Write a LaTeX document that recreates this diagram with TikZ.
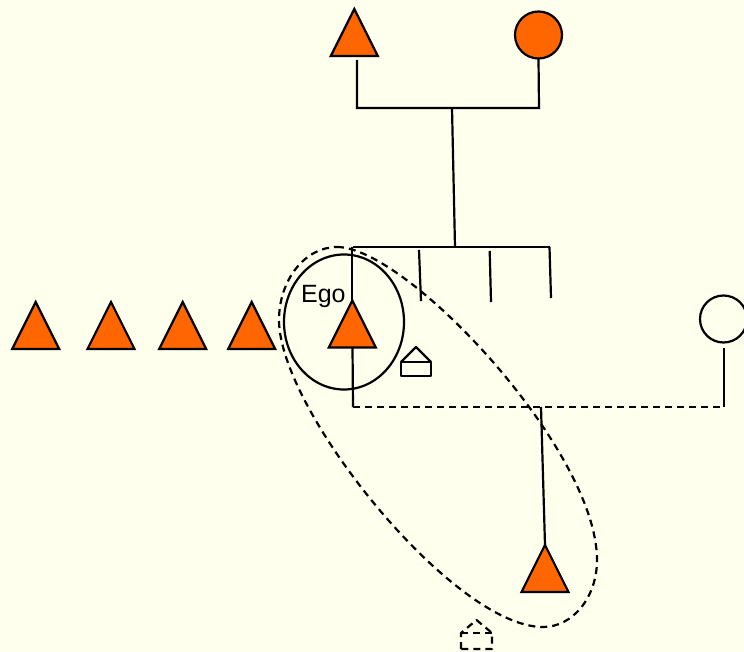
\documentclass[tikz,border=0pt]{standalone}
\usepackage{fontspec}
\setmainfont{Liberation Sans}
\usetikzlibrary{shapes.geometric,calc}
\definecolor{bg}{RGB}{255,255,238}
\definecolor{kin}{RGB}{255,102,0}
\begin{document}
\begin{tikzpicture}[x=1pt,y=-1pt,line width=2.2pt]
\tikzset{
  tri/.style={isosceles triangle, isosceles triangle stretches, shape border rotate=90,
    minimum width=47pt, minimum height=47pt, inner sep=0pt, outer sep=0pt,
    draw=black, fill=kin, anchor=apex},
  circ/.style={circle, minimum size=47pt, inner sep=0pt, outer sep=0pt, draw=black},
  dsh/.style={dash pattern=on 7pt off 5pt},
  egofont/.style={font=\fontsize{25}{29}\selectfont}
}
\fill[bg] (0,0) rectangle (744,652);
\useasboundingbox (0,0) rectangle (744,652);

% parents
\node[tri] (fa) at (354.3,9) {};
\node[circ, fill=kin] (mo) at (538.5,35) {};
% siblings on the left
\node[tri] (b1) at (35.7,302) {};
\node[tri] (b2) at (111,302) {};
\node[tri] (b3) at (182.7,302) {};
\node[tri] (b4) at (251.7,302) {};
% ego
\node[tri] (ego) at (352.3,300.5) {};
\node[draw, ellipse, minimum width=120pt, minimum height=135pt, inner sep=0pt] (egoring) at (344,322) {};
\node[egofont, anchor=base, inner sep=0pt] (egolabel) at (323.4,302.5) {Ego};
% spouse and child
\node[circ] (sp) at (723.5,319) {};
\node[tri] (ch) at (545,545) {};

% junction coordinates
\coordinate (faL) at (357,60);
\coordinate (faJ) at (357,108);
\coordinate (moJ) at (539,108);
\coordinate (pm) at (452,108);
\coordinate (sibTop) at (455,247);
\coordinate (sL) at (353,247);
\coordinate (sR) at (550,247);
\coordinate (egoTop) at (352.3,247);
\coordinate (s1t) at (419,250);
\coordinate (s1b) at (421,301);
\coordinate (s2t) at (489.7,251);
\coordinate (s2b) at (491,302);
\coordinate (s3t) at (549.5,247);
\coordinate (s3b) at (551,298);
\coordinate (egoBot) at (352.5,347);
\coordinate (mJ1) at (353,407);
\coordinate (mJ2) at (724,407);
\coordinate (spL) at (724,348);
\coordinate (cJ) at (541,407);

% parent connectors
\draw (faL) -- (faJ) -- (moJ) -- (mo.south);
\draw (pm) -- (sibTop);
\draw (sL) -- (sR);
\draw (egoTop) -- (ego.apex);
\draw (s1t) -- (s1b);
\draw (s2t) -- (s2b);
\draw (s3t) -- (s3b);
% marriage and child
\draw (egoBot) -- (mJ1);
\draw[dsh] (mJ1) -- (mJ2);
\draw (spL) -- (mJ2);
\draw (cJ) -- (ch.apex);

% household symbols
\coordinate (h1) at (416,362);
\draw[line join=round] ($(h1)+(-15,0)$) rectangle ($(h1)+(15,14)$);
\draw[line join=round] ($(h1)+(-15,0)$) -- ($(h1)+(0,-15)$) -- ($(h1)+(15,0)$);

\coordinate (h2) at (476.5,633);
\draw[dsh, line join=round] ($(h2)+(-15.5,16)$) -- ($(h2)+(-15.5,0)$) -- ($(h2)+(0,-13)$)
  -- ($(h2)+(15.5,0)$) -- ($(h2)+(15.5,16)$) -- cycle;
\draw[dsh] ($(h2)+(-15.5,0)$) -- ($(h2)+(15.5,0)$);

% dashed grouping outline
\coordinate (gT) at (337,247);
\coordinate (gR) at (597,560);
\coordinate (gB) at (543,627);
\coordinate (gL) at (279,320);
\draw[dsh] (gT) .. controls (407,247) and (597,450) .. (gR)
  .. controls (597,597) and (573,627) .. (gB)
  .. controls (453,627) and (279,410) .. (gL)
  .. controls (279,280) and (305,247) .. (gT) -- cycle;
\end{tikzpicture}
\end{document}
